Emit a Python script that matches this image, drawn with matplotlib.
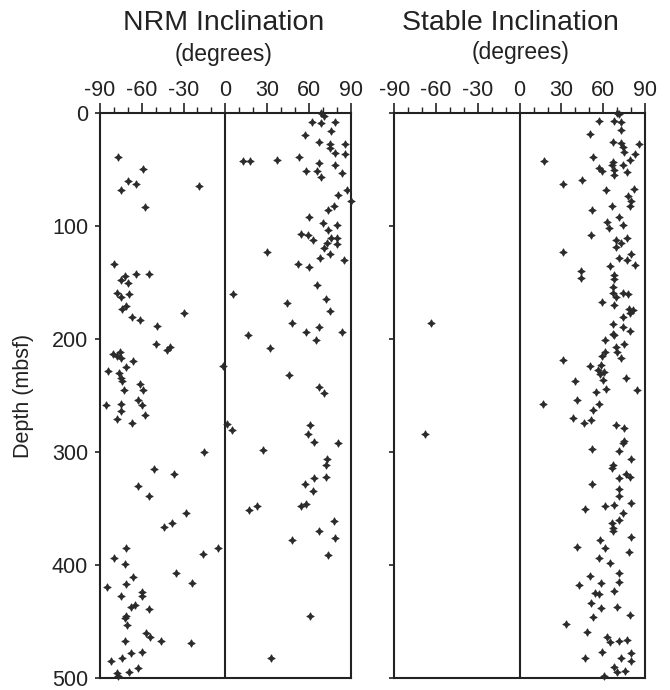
import matplotlib
matplotlib.use("Agg")
import matplotlib.pyplot as plt
from matplotlib.ticker import MultipleLocator

plt.rcParams['font.family'] = ['Liberation Sans', 'DejaVu Sans']

# NRM inclination (degrees) versus depth (mbsf)
nrm_depth = [0, 2, 8, 9, 8, 16, 19, 25, 27, 31, 27, 35, 36, 42, 42, 41, 39, 44, 46, 51,
             51, 56, 53, 68, 72, 78, 82, 86, 92, 97, 99, 103, 107, 108, 112, 110, 110, 115, 116, 119,
             123, 125, 128, 130, 133, 136, 152, 160, 164, 168, 175, 186, 189, 194, 194, 201, 196, 208, 232, 242,
             248, 275, 280, 276, 284, 291, 292, 298, 306, 311, 322, 323, 328, 334, 348, 346, 351, 348, 361, 370,
             376, 378, 391, 445, 482,
             39, 49, 60, 63, 68, 83, 64, 133, 142, 142, 144, 148, 150, 159, 163, 160, 173, 171, 180, 183,
             177, 188, 204, 210, 207, 213, 215, 211, 217, 219, 228, 225, 230, 234, 237, 245, 240, 245, 258, 257,
             254, 258, 264, 267, 271, 274, 224, 300, 315, 319, 330, 339, 354, 366, 363, 385, 394, 399, 390, 385,
             411, 419, 417, 407, 416, 427, 424, 427, 437, 435, 439, 445, 447, 453, 460, 464, 467, 467, 469, 478,
             477, 482, 485, 491, 495, 496, 498]
nrm_inc = [69, 71, 62, 69, 79, 76, 57, 67, 75, 75, 86, 79, 86, 13, 18, 37, 53, 67, 79, 58,
           66, 69, 84, 87, 81, 90, 78, 74, 60, 70, 80, 74, 54, 59, 63, 76, 80, 73, 80, 71,
           30, 75, 68, 85, 52, 60, 66, 5.5, 72, 44, 75, 48, 67, 58, 84, 65, 16, 32, 46, 67,
           71, 1, 5, 61, 59, 64, 81, 27, 73, 72, 72, 64, 57, 63, 54, 58, 17, 23, 78, 67,
           79, 48, 74, 61, 33,
           -77, -59, -70, -64, -75, -58, -19, -80, -64, -55, -72, -75, -70, -78, -75, -69, -74, -71, -67, -61,
           -30, -49, -50, -42, -40, -81, -78, -75.5, -75, -66, -84, -71, -76, -75, -74, -73, -61, -59, -86, -75,
           -63, -60, -75, -58, -78, -67, -2, -15, -51, -37, -63, -55, -28, -44, -38, -71, -80, -72, -16, -5.5,
           -66, -85, -71.5, -35.5, -24, -75, -60, -60, -68, -65, -55, -71.5, -72, -70.5, -57, -54, -72, -46, -24.5, -68,
           -60, -74, -82, -63, -69, -78, -77]

# Stable (cleaned) inclination (degrees) versus depth (mbsf)
stable_depth = [0, 1, 7, 7, 8, 15, 18, 25, 26, 30, 34, 27, 36, 41, 39, 42, 43, 46, 46, 48,
                51, 50, 55, 52, 59, 63, 68, 67, 73, 78, 82, 82, 86, 92, 96, 102, 99, 108, 112, 115,
                110, 118, 123, 128, 130, 125, 134, 135, 143, 147, 140, 146, 154, 159, 163, 159, 160, 167, 170, 173,
                174.5, 177, 180, 187, 195, 196, 189, 193, 201, 204, 207, 211, 211, 214.5, 216.5, 218, 223, 224, 227, 231,
                229, 236, 234, 237, 244, 247, 245, 254, 257, 257, 263, 270, 274, 272, 276, 279, 290, 292, 297, 299,
                306, 311, 314, 186, 284,
                323, 319, 322, 328, 333, 339, 350, 347.5, 347, 345, 354, 360, 363, 367, 370, 378, 375, 384, 384.5, 388,
                394, 398, 407, 410, 415, 416, 418, 423, 425, 426, 434, 438, 437, 444, 446, 452, 459, 463.5, 468, 467,
                466, 477, 478, 482, 482, 485, 490, 495, 494, 498]
stable_inc = [70, 71, 57, 68, 72.5, 73, 50.5, 67, 73, 74, 75, 86, 83, 79, 53, 17.5, 67, 66, 74, 57,
              59, 68, 68, 77, 45, 31, 62, 82, 78, 80, 79, 66, 52, 71, 63, 64, 74, 51, 69, 72.5,
              77, 69, 31, 71.5, 77, 80, 82.5, 65, 68, 68, 44, 44, 67, 67, 69, 74, 77.5, 59, 68, 78.5,
              81.6, 79, 74, 67, 67, 68, 74, 79, 61, 75, 69, 70, 61, 59, 73, 31, 58.6, 50.5, 56, 58,
              60.5, 60, 76, 39.5, 62, 54.5, 84, 41, 57, 16.5, 53, 38, 46, 51, 69, 75, 75, 74, 52, 71.5,
              80, 67, 66, -64, -68,
              71.5, 76, 79, 52, 71, 71, 47, 61.5, 67.5, 80, 74, 71, 66, 67, 67, 58, 80, 41, 61.5, 78.5,
              57, 64.6, 71.5, 50.5, 71.5, 58.6, 42.6, 67.5, 54, 57, 51.4, 58.6, 70, 79, 52.6, 33, 48.6, 62.4, 64.6, 71.5,
              77, 59.3, 79.7, 46.7, 72.5, 79.7, 68, 70, 75.5, 60.5]

titles = ["NRM Inclination", "Stable Inclination"]
subtitle = "(degrees)"
ylabel = "Depth (mbsf)"
x_ticks = [-90, -60, -30, 0, 30, 60, 90]
y_ticks = [0, 100, 200, 300, 400, 500]

ink = "#222222"
fig = plt.figure(figsize=(6.7, 6.9), dpi=100)

W, H = 670.0, 690.0
top_px, bot_px = 113.3, 678.0
panels = [(100.0, 350.7), (394.3, 645.0)]
title_x = [224.0, 510.0]
sub_x = [224.0, 521.0]
sub_y = [55.0, 52.0]

datasets = [(nrm_inc, nrm_depth), (stable_inc, stable_depth)]

for i, ((x0, x1), (inc, depth)) in enumerate(zip(panels, datasets)):
    ax = fig.add_axes([x0 / W, 1 - bot_px / H, (x1 - x0) / W, (bot_px - top_px) / H])
    ax.set_xlim(-90, 90)
    ax.set_ylim(500, 0)
    ax.axvline(0, color=ink, lw=1.5, zorder=1)
    ax.plot(inc, depth, linestyle="none", marker=(4, 1, 0), markersize=5.5,
            color="#2a2a2a", markeredgewidth=0.5, zorder=3, clip_on=False)

    for s in ax.spines.values():
        s.set_color(ink)
        s.set_linewidth(1.5)

    ax.xaxis.tick_top()
    ax.set_xticks(x_ticks)
    ax.set_xticklabels([str(t) for t in x_ticks])
    ax.xaxis.set_minor_locator(MultipleLocator(10))
    ax.tick_params(axis="x", which="major", direction="out", length=7, width=1.2,
                   color=ink, labelsize=15.5, labelcolor=ink, pad=2)
    ax.tick_params(axis="x", which="minor", direction="out", length=4.5, width=1.0, color=ink)

    ax.set_yticks(y_ticks)
    ax.tick_params(axis="y", which="major", direction="out", length=3.5, width=1.2,
                   color=ink, labelsize=15.5, labelcolor=ink, pad=5)
    if i == 0:
        ax.set_yticklabels([str(t) for t in y_ticks])
    else:
        ax.set_yticklabels([])

    fig.text(title_x[i] / W, 1 - 22.7 / H, titles[i], ha="center", va="center",
             fontsize=20.5, color=ink)
    fig.text(sub_x[i] / W, 1 - sub_y[i] / H, subtitle, ha="center", va="center",
             fontsize=16.5, color=ink)

fig.text(23 / W, 1 - 396 / H, ylabel, rotation=90, ha="center", va="center",
         fontsize=15.5, color=ink)

fig.savefig("out.png", dpi=100, facecolor="white")
